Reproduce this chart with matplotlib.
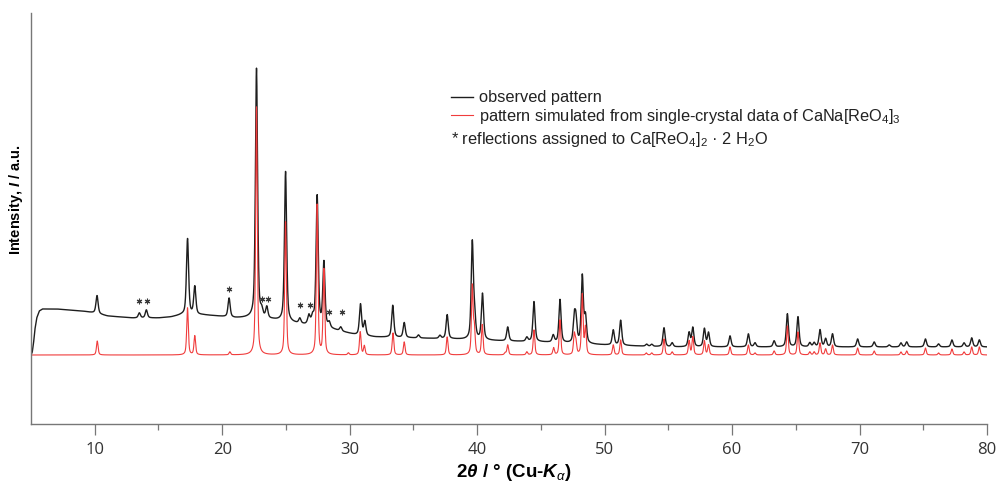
import numpy as np
import matplotlib.pyplot as plt

plt.rcParams['font.family'] = 'Liberation Sans'
plt.rcParams['mathtext.fontset'] = 'custom'
plt.rcParams['mathtext.rm'] = 'Liberation Sans'
plt.rcParams['mathtext.it'] = 'Liberation Sans:italic'
plt.rcParams['mathtext.bf'] = 'Liberation Sans:bold'
plt.rcParams['mathtext.bfit'] = 'Liberation Sans:italic:bold'

# observed background (2theta, intensity in arbitrary units)
bg_tt = [5.0, 5.1, 5.2, 5.3, 5.45, 5.65, 5.9, 7.0, 8.0, 9.0, 10.0, 11.0, 12.0, 13.0,
         14.0, 15.0, 16.0, 16.8, 18.5, 19.5, 20.3, 21.0, 22.0, 24.0, 25.5, 26.5,
         27.0, 28.5, 29.5, 30.5, 32.0, 35.0, 38.0, 40.0, 42.0, 45.0, 50.0, 55.0, 80.0]
bg_obs = [69, 72, 81, 94, 106, 113, 115, 115, 114, 113, 111, 108, 107, 106,
          106, 106, 107, 109, 109, 108, 107, 106, 106, 104, 101, 99,
          100, 95, 92, 89, 87, 86, 85, 84, 83, 82, 79, 77, 77]

# observed reflections: position / height above background
obs_pos = [10.18, 13.5, 14.05, 17.28, 17.85, 20.54, 22.69, 23.1, 23.5, 24.97, 26.09,
           26.8, 27.1, 27.45, 27.98, 28.4, 29.3, 30.85, 31.19, 33.38, 34.28, 35.4,
           37.08, 37.65, 39.62, 39.8, 40.42, 42.4, 43.9, 44.46, 45.97, 46.5, 47.62,
           47.75, 48.25, 48.5, 50.68, 51.26, 53.3, 53.7, 54.66, 55.3, 56.63, 56.92,
           57.83, 58.15, 59.84, 61.28, 61.8, 63.3, 64.34, 65.17, 66.1, 66.44, 66.9,
           67.34, 67.88, 69.85, 71.15, 72.33, 73.25, 73.7, 75.17, 76.2, 77.25, 78.2,
           78.8, 79.4]
obs_h = [18, 5, 8, 76, 28, 19, 250, 6, 11, 150, 5,
         8, 6, 129, 64, 5, 4, 31, 14, 32, 15, 3,
         3, 24, 96, 20, 46, 14, 4, 40, 7, 43, 24,
         22, 67, 26, 15, 25, 2, 2, 19, 4, 14, 19,
         18, 14, 11, 13, 4, 6, 33, 30, 4, 4, 17,
         8, 13, 8, 5, 2, 4, 5, 8, 3, 7, 4,
         9, 7]

# simulated pattern from CaNa[ReO4]3 single-crystal data
sim_pos = [10.2, 17.28, 17.85, 20.6, 22.69, 24.97, 27.45, 27.98, 29.9, 30.83, 31.15,
           33.4, 34.28, 37.65, 39.62, 39.78, 40.4, 42.2, 42.4, 43.9, 44.46, 46.0,
           46.5, 47.62, 47.75, 48.25, 48.5, 50.68, 51.26, 53.27, 53.7, 54.66, 55.3,
           56.63, 56.92, 57.83, 58.15, 59.84, 61.28, 61.8, 63.3, 64.34, 65.17, 66.1,
           66.44, 66.9, 67.34, 67.88, 69.85, 71.15, 73.25, 73.7, 75.17, 76.2, 77.25,
           78.2, 78.8, 79.4]
sim_h = [14, 47, 19, 3, 248, 133, 150, 85, 2, 23, 9,
         22, 13, 18, 68, 25, 30, 2, 10, 3, 25, 7,
         35, 20, 12, 60, 27, 10, 15, 2, 2, 16, 3,
         14, 18, 14, 10, 8, 10, 2, 4, 29, 23, 3,
         3, 12, 6, 10, 7, 4, 3, 4, 7, 2, 6,
         3, 8, 8]
SIM_BASE = 69

# reflections of Ca[ReO4]2 . 2 H2O
star_tt = [13.46, 14.08, 20.52, 23.1, 23.6, 26.1, 26.9, 28.37, 29.39]
star_y = [123, 123, 135, 125, 125, 119, 119, 112, 112]


def profile(tt, pos, height, fwhm, eta=0.55):
    out = np.zeros_like(tt)
    for p, a in zip(pos, height):
        d = (tt - p) / (fwhm / 2)
        out += a * (eta / (1 + d ** 2) + (1 - eta) * np.exp(-np.log(2) * d ** 2))
    return out


tt = np.arange(5, 80.001, 0.01)
obs = np.interp(tt, bg_tt, bg_obs) + profile(tt, obs_pos, obs_h, 0.2)
sim = SIM_BASE + profile(tt, sim_pos, sim_h, 0.15)

fig = plt.figure(figsize=(9.98, 4.82), dpi=100)
ax = fig.add_axes([31 / 998, 58 / 482, 956 / 998, 411 / 482])

ax.plot(tt, obs, color='#1e1e1e', lw=1.0, label='observed pattern')
ax.plot(tt, sim, color='#f03c3c', lw=0.8,
        label='pattern simulated from single-crystal data of CaNa[ReO$_4$]$_3$')
ax.plot(star_tt, star_y, ls='none', marker=(6, 2, 0), ms=4, mew=0.8, color='#3a3a3a')

ax.set_xlim(5, 80)
ax.set_ylim(0, 411)
ax.set_xticks(range(10, 81, 10))
ax.set_xticks(range(15, 80, 10), minor=True)
ax.set_yticks([])
for s in ['top', 'right']:
    ax.spines[s].set_visible(False)
for s in ['left', 'bottom']:
    ax.spines[s].set_color('#777777')
    ax.spines[s].set_linewidth(1)
ax.tick_params(axis='x', which='major', direction='out', length=8, width=0.9,
               color='#777777', pad=5, labelsize=12, labelcolor='#333333')
ax.tick_params(axis='x', which='minor', direction='out', length=4, width=0.9, color='#777777')
for lab in ax.get_xticklabels():
    lab.set_fontfamily('Open Sans')

ax.set_xlabel(r'2$\mathbfit{\theta}$ / ° (Cu-$\mathbfit{K}_\alpha$)', fontsize=13.5,
              fontweight='bold')
ax.xaxis.set_label_coords(0.505, -0.093)
ax.set_ylabel(r'Intensity, $\mathbfit{I}$ / a.u.', fontsize=10.5, fontweight='bold')
ax.yaxis.set_label_coords(-0.006, 0.547)

leg = ax.legend(loc='upper left', bbox_to_anchor=(0.439, 0.812), frameon=False,
                fontsize=11.8, handlelength=1.34, handletextpad=0.38,
                borderpad=0, borderaxespad=0, labelspacing=0.08)
for t in leg.get_texts():
    t.set_color('#222222')
ax.text(0.439, 0.693, r'* reflections assigned to Ca[ReO$_4$]$_2$ · 2 H$_2$O',
        transform=ax.transAxes, fontsize=11.8, va='center', ha='left', color='#222222')

fig.savefig('out.png', dpi=100)
